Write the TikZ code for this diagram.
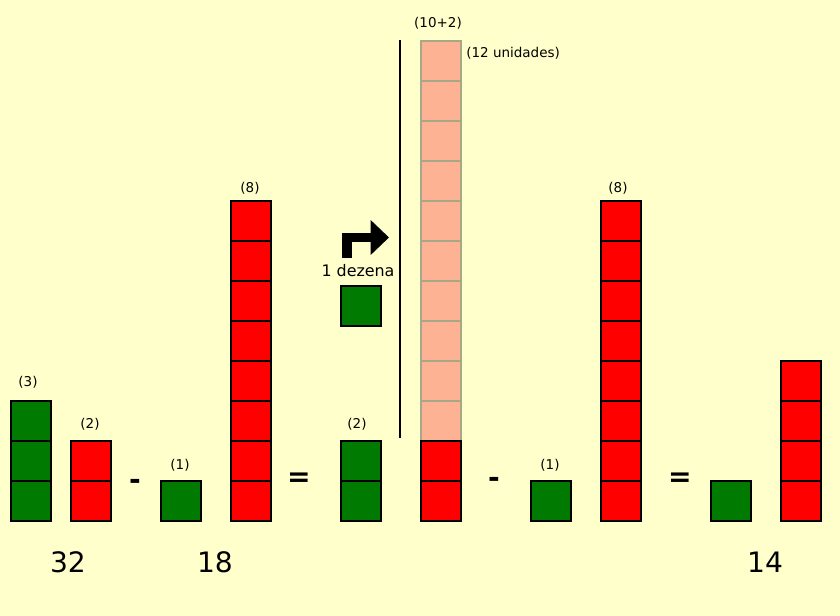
\documentclass[tikz,border=0pt]{standalone}
\usepackage{fontspec}
\setmainfont{DejaVu Sans}
\usetikzlibrary{arrows.meta}
\definecolor{bg}{HTML}{FFFFCC}
\definecolor{gr}{HTML}{007A00}
\definecolor{rd}{HTML}{FF0000}
\definecolor{salmon}{HTML}{FDB294}
\definecolor{salmonline}{HTML}{A8A888}
\tikzset{
  unit/.style={draw=black, line width=1.2pt, minimum size=40*0.025cm, inner sep=0pt, anchor=north west},
  gsq/.style={unit, fill=gr},
  rsq/.style={unit, fill=rd},
  psq/.style={draw=salmonline, line width=1.2pt, fill=salmon, minimum size=40*0.025cm, inner sep=0pt, anchor=north west},
  lbl/.style={font=\fontsize{9.6}{11}\selectfont, inner sep=0pt},
  big/.style={font=\fontsize{20}{24}\selectfont, inner sep=0pt},
  op/.style={font=\bfseries\fontsize{20}{22}\selectfont, inner sep=0pt}
}
\begin{document}
\begin{tikzpicture}[x=0.025cm, y=-0.025cm]
\fill[bg] (0,0) rectangle (840,616);
\useasboundingbox (0,0) rectangle (840,616);
% left group
\foreach \i in {0,1,2} \node[gsq] (ga\i) at (10,400+40*\i) {};
\node[lbl] (l3) at (28,382) {(3)};
\foreach \i in {0,1} \node[rsq] (ra\i) at (70,440+40*\i) {};
\node[lbl] (l2a) at (90,424) {(2)};
\node[op] (m1) at (135,484) {-};
\node[gsq] (gb) at (160,480) {};
\node[lbl] (l1a) at (180,465) {(1)};
\foreach \i in {0,...,7} \node[rsq] (rb\i) at (230,200+40*\i) {};
\node[lbl] (l8a) at (250,188) {(8)};
\node[op] (e1) at (299,480) {=};
% middle group
\foreach \i in {0,1} \node[gsq] (gc\i) at (340,440+40*\i) {};
\node[lbl] (l2b) at (357,424) {(2)};
\node[gsq] (gd) at (340,285) {};
\node[font=\fontsize{11.3}{13}\selectfont, inner sep=0pt] (dez) at (358,271) {1 dezena};
\coordinate (a1) at (347,258);
\coordinate (a2) at (347,237.5);
\coordinate (a3) at (389,237.5);
\draw[line width=6.5pt, -{Triangle[length=13pt, width=24pt]}] (a1) -- (a2) -- (a3);
\coordinate (v1) at (400,40);
\coordinate (v2) at (400,438);
\draw[line width=1.5pt] (v1) -- (v2);
\foreach \i in {0,...,9} \node[psq] (p\i) at (420,40+40*\i) {};
\node[lbl] (l102) at (438,23) {(10+2)};
\node[lbl, anchor=west] (l12) at (466,53) {(12 unidades)};
\foreach \i in {0,1} \node[rsq] (rc\i) at (420,440+40*\i) {};
\node[op] (m2) at (494,482) {-};
\node[gsq] (ge) at (530,480) {};
\node[lbl] (l1b) at (550,465) {(1)};
\foreach \i in {0,...,7} \node[rsq] (rd\i) at (600,200+40*\i) {};
\node[lbl] (l8b) at (618,188) {(8)};
\node[op] (e2) at (680,480) {=};
\node[gsq] (gf) at (710,480) {};
\foreach \i in {0,...,3} \node[rsq] (re\i) at (780,360+40*\i) {};
% numbers
\node[big] (n32) at (68,562) {32};
\node[big] (n18) at (215,562) {18};
\node[big] (n14) at (765,562) {14};
\end{tikzpicture}
\end{document}
